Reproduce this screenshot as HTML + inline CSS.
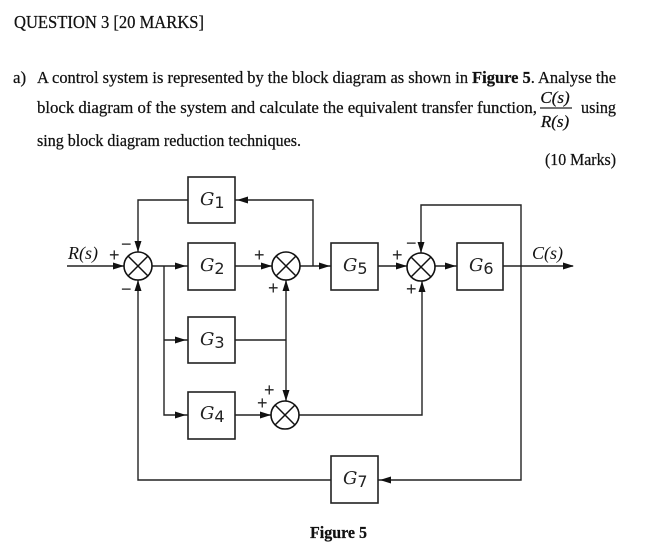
<!DOCTYPE html>
<html><head><meta charset="utf-8"><style>
html,body{margin:0;padding:0;background:#fff}
svg{display:block}
text{font-family:"Liberation Serif",serif;fill:#111}
.t{stroke:#111;stroke-width:.25}
.b{fill:#fff;stroke:#222;stroke-width:1.6}
.l{fill:none;stroke:#222;stroke-width:1.4}
.s{fill:#fff;stroke:#111;stroke-width:1.6}
.x{stroke:#111;stroke-width:1.5}
.a{fill:#111;stroke:none}
.g{font-family:"DejaVu Serif","Liberation Serif",serif;font-style:italic;font-size:18px;fill:#222}
.d{font-family:"DejaVu Sans",sans-serif;font-style:normal;font-size:16px}
.p{font-family:"Liberation Sans",sans-serif;font-size:18px;fill:#222}
</style></head><body>
<svg width="662" height="551" viewBox="0 0 662 551" xmlns="http://www.w3.org/2000/svg">
<rect width="662" height="551" fill="#fff"/>
<text class="t" x="14" y="28" font-size="18" textLength="190" lengthAdjust="spacingAndGlyphs">QUESTION 3 [20 MARKS]</text>
<text class="t" x="13" y="83" font-size="17">a)</text>
<text class="t" x="37" y="83" font-size="17" textLength="579" lengthAdjust="spacingAndGlyphs">A control system is represented by the block diagram as shown in <tspan font-weight="700">Figure 5</tspan>. Analyse the</text>
<text class="t" x="37" y="113" font-size="17" textLength="500" lengthAdjust="spacingAndGlyphs">block diagram of the system and calculate the equivalent transfer function,</text>
<text class="t" x="581" y="113" font-size="17" textLength="35" lengthAdjust="spacingAndGlyphs">using</text>
<text class="t" x="555" y="103" font-size="17" font-style="italic" text-anchor="middle">C(s)</text>
<line x1="540" y1="108" x2="572" y2="108" stroke="#222" stroke-width="1.2"/>
<text class="t" x="555" y="127" font-size="17" font-style="italic" text-anchor="middle">R(s)</text>
<text class="t" x="37" y="146" font-size="17" textLength="264" lengthAdjust="spacingAndGlyphs">sing block diagram reduction techniques.</text>
<text class="t" x="545" y="165" font-size="17" textLength="71" lengthAdjust="spacingAndGlyphs">(10 Marks)</text>

<path class="l" d="M67 266H124M152 266H188M235 266H272M300 266H331M378 266H407M435 266H457M503 266H573"/>
<path class="l" d="M188 200H138V252M235 200H313V266"/>
<path class="l" d="M164 266V415H188M164 340H188M235 340H286M286 280V401M235 415H271M299 415H422V281"/>
<path class="l" d="M138 280V480H331M378 480H521V205H421V253"/>

<path class="a" d="M124 266l-11-3.5v7zM186 266l-11-3.5v7zM272 266l-11-3.5v7zM330 266l-11-3.5v7zM407 266l-11-3.5v7zM456 266l-11-3.5v7zM574 266l-11-3.5v7z"/>
<path class="a" d="M186 340l-11-3.5v7zM186 415l-11-3.5v7zM271 415l-11-3.5v7zM380 480l11-3.5v7z"/>
<path class="a" d="M138 252l-3.5-11h7zM421 253l-3.5-11h7zM286 401l-3.5-11h7z"/>
<path class="a" d="M138 280l-3.5 11h7zM286 280l-3.5 11h7zM422 281l-3.5 11h7zM237 200l11-3.5v7z"/>

<rect class="b" x="188" y="177" width="47" height="46"/>
<rect class="b" x="188" y="243" width="47" height="47"/>
<rect class="b" x="188" y="317" width="47" height="46"/>
<rect class="b" x="188" y="392" width="47" height="47"/>
<rect class="b" x="331" y="243" width="47" height="47"/>
<rect class="b" x="457" y="243" width="46" height="47"/>
<rect class="b" x="331" y="456" width="47" height="47"/>

<g>
<circle class="s" cx="138" cy="266" r="14"/><path class="x" d="M128 256L148 276M148 256L128 276"/>
<circle class="s" cx="286" cy="266" r="14"/><path class="x" d="M276 256L296 276M296 256L276 276"/>
<circle class="s" cx="421" cy="267" r="14"/><path class="x" d="M411 257L431 277M431 257L411 277"/>
<circle class="s" cx="285" cy="415" r="14"/><path class="x" d="M275 405L295 425M295 405L275 425"/>
</g>

<text class="g" x="200" y="205">G<tspan class="d" dy="3">1</tspan></text>
<text class="g" x="200" y="271">G<tspan class="d" dy="3">2</tspan></text>
<text class="g" x="200" y="345">G<tspan class="d" dy="3">3</tspan></text>
<text class="g" x="200" y="419">G<tspan class="d" dy="3">4</tspan></text>
<text class="g" x="343" y="271">G<tspan class="d" dy="3">5</tspan></text>
<text class="g" x="469" y="271">G<tspan class="d" dy="3">6</tspan></text>
<text class="g" x="343" y="484">G<tspan class="d" dy="3">7</tspan></text>

<text x="68" y="259" font-size="18" font-style="italic">R(s)</text>
<text x="532" y="259" font-size="18" font-style="italic">C(s)</text>

<text class="p" x="109" y="261">+</text>
<text class="p" x="121" y="250">−</text>
<text class="p" x="121" y="295">−</text>
<text class="p" x="254" y="261">+</text>
<text class="p" x="268" y="294">+</text>
<text class="p" x="392" y="261">+</text>
<text class="p" x="406" y="295">+</text>
<text class="p" x="406" y="249">−</text>
<text class="p" x="264" y="396">+</text>
<text class="p" x="257" y="409">+</text>

<text class="t" x="310" y="538" font-size="17" font-weight="700" textLength="57" lengthAdjust="spacingAndGlyphs">Figure 5</text>
</svg>
</body></html>
